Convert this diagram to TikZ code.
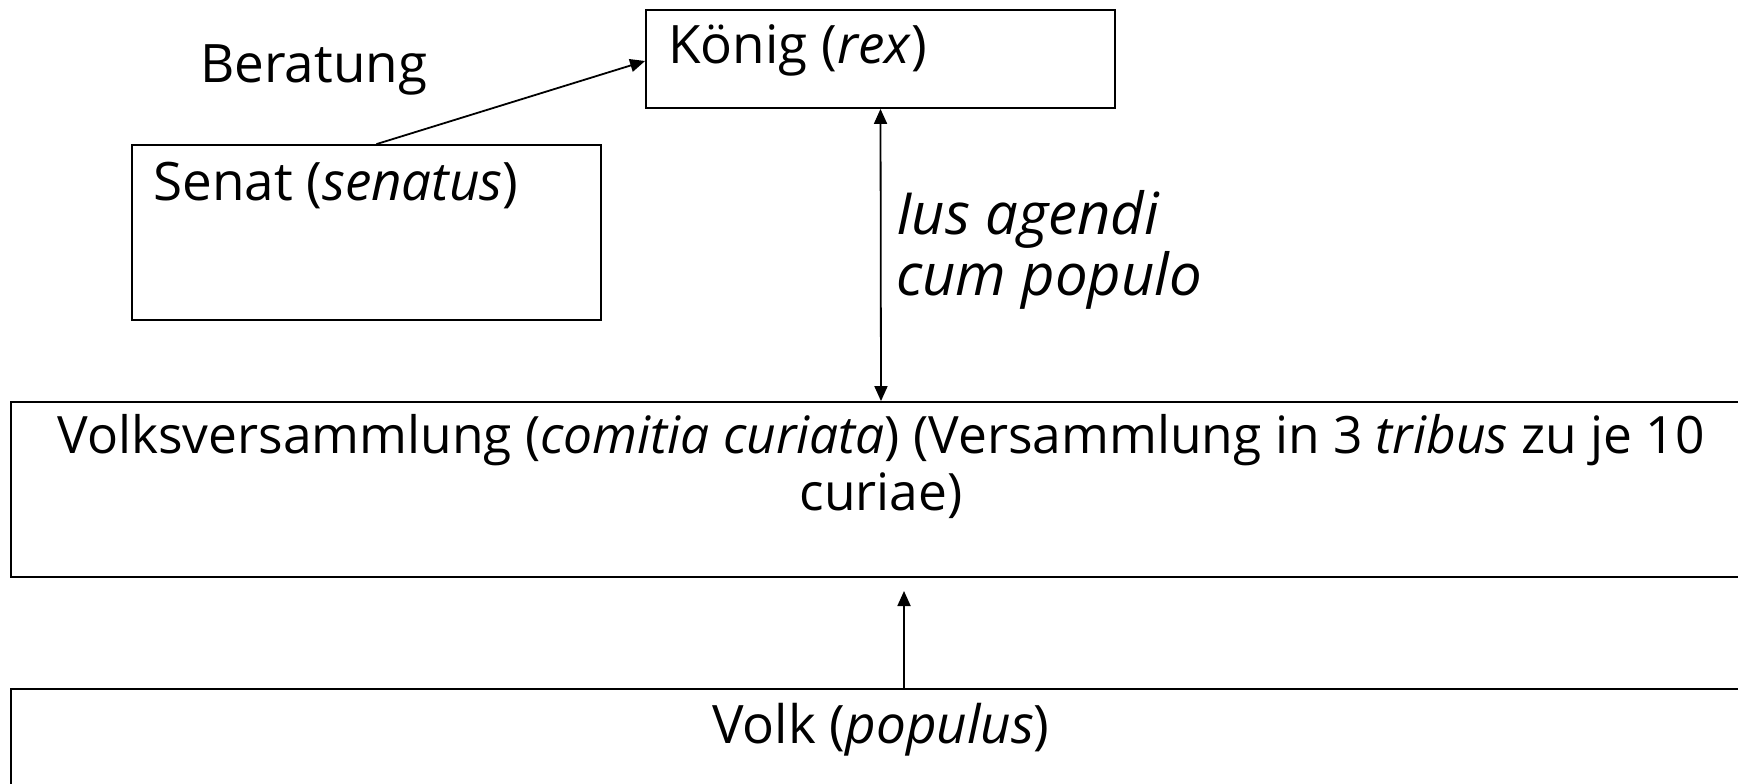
\documentclass[tikz,border=0pt]{standalone}
\usepackage{fontspec}
\setmainfont{Open Sans}
\usetikzlibrary{arrows.meta}
\begin{document}
\begin{tikzpicture}[x=1pt,y=-1pt,
  box/.style={draw, line width=1.8pt, rectangle, inner sep=0pt},
  txt/.style={inner sep=0pt, font=\fontsize{53}{58}\selectfont},
  wide/.style={inner sep=0pt, font=\fontsize{51.5}{57}\selectfont},
  lbl/.style={inner sep=0pt, font=\fontsize{58}{61}\selectfont\itshape},
  arr/.style={line width=1.8pt, -{Triangle[length=15pt,width=13pt]}},
  darr/.style={line width=1.8pt, {Triangle[length=15pt,width=13pt]}-{Triangle[length=15pt,width=13pt]}}]
\clip (0,0) rectangle (1738,784);
\fill[white] (0,0) rectangle (1738,784);
% boxes
\node[box, minimum width=469pt, minimum height=98pt] (koenig) at (880.5,59) {};
\node[box, minimum width=469pt, minimum height=175pt] (senat) at (366.5,232.5) {};
\node[box, minimum width=1740pt, minimum height=175pt] (volksv) at (881,489.5) {};
\node[box, minimum width=1740pt, minimum height=175pt] (volk) at (881,776.5) {};
% texts
\node[txt, anchor=base west] (tkoenig) at (668,64) {König (\textit{rex})};
\node[txt, anchor=base west] (tsenat) at (153,200) {Senat (\textit{senatus})};
\node[txt, anchor=base west] (tberat) at (200,83) {Beratung};
\node[lbl, anchor=base west, align=left] (tius) at (896,295) {Ius agendi\\cum populo};
\node[wide, anchor=base, align=center] (tvolksv) at (881,510) {Volksversammlung (\textit{comitia curiata}) (Versammlung in 3 \textit{tribus} zu je 10\\curiae)};
\node[txt, anchor=base] (tvolk) at (881,743) {Volk (\textit{populus})};
% connectors
\coordinate (vtip) at (904,591);
\draw[arr] ([xshift=10pt]senat.north) -- ([yshift=-2pt]koenig.west);
\draw[darr] (koenig.south) -- (volksv.north);
\draw[arr] (volk.north -| vtip) -- (vtip);
\end{tikzpicture}
\end{document}
